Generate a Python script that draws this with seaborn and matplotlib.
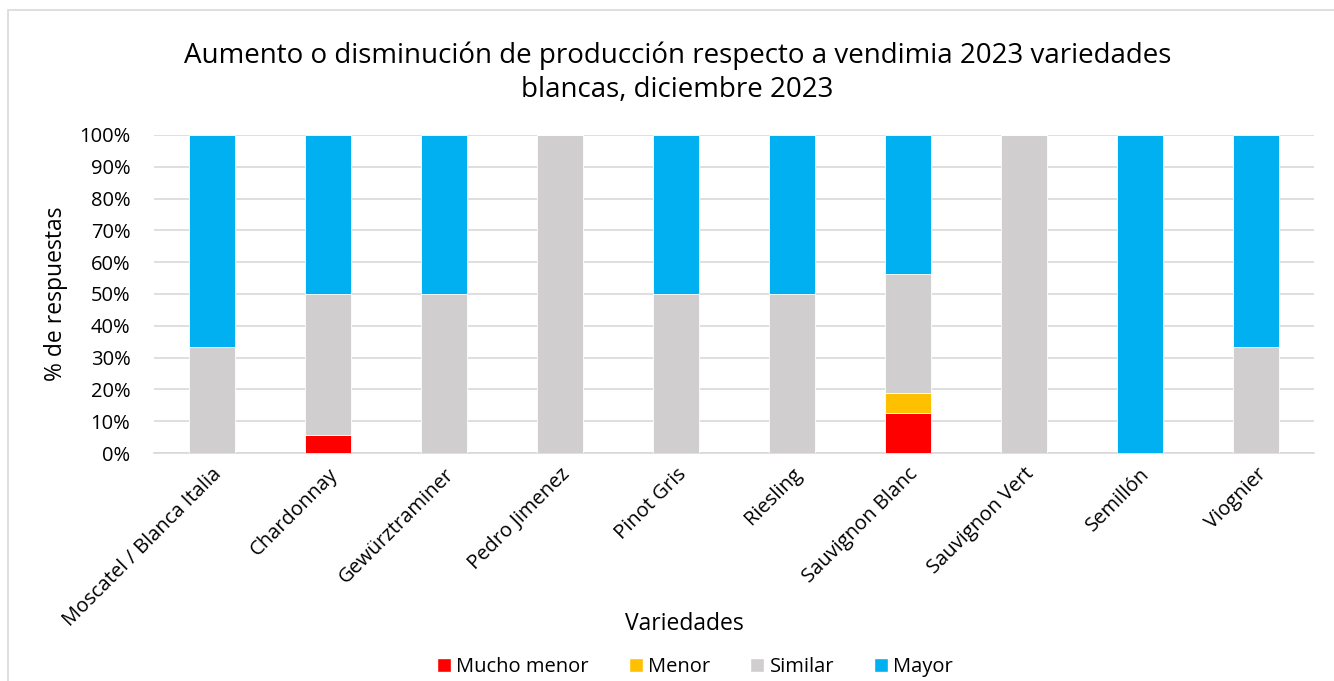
import matplotlib
matplotlib.use("Agg")
import matplotlib.pyplot as plt
import seaborn as sns
import pandas as pd
from matplotlib.patches import Rectangle, Patch
from matplotlib.ticker import FuncFormatter

variedades = ["Moscatel / Blanca Italia", "Chardonnay", "Gewürztraminer", "Pedro Jimenez",
              "Pinot Gris", "Riesling", "Sauvignon Blanc", "Sauvignon Vert", "Semillón", "Viognier"]
mucho_menor = [0.0, 5.6, 0.0, 0.0, 0.0, 0.0, 12.5, 0.0, 0.0, 0.0]
menor = [0.0, 0.0, 0.0, 0.0, 0.0, 0.0, 6.25, 0.0, 0.0, 0.0]
similar = [33.3, 44.4, 50.0, 100.0, 50.0, 50.0, 37.5, 100.0, 0.0, 33.3]
mayor = [66.7, 50.0, 50.0, 0.0, 50.0, 50.0, 43.75, 0.0, 100.0, 66.7]

series = ["Mucho menor", "Menor", "Similar", "Mayor"]
colores = ["#FF0000", "#FFC000", "#D0CECE", "#00B0F0"]

df = pd.DataFrame({"Variedad": variedades, "Mucho menor": mucho_menor,
                   "Menor": menor, "Similar": similar, "Mayor": mayor})

sns.set_style("white")
plt.rcParams["font.family"] = ["Open Sans", "DejaVu Sans"]
plt.rcParams["text.color"] = "black"

fig = plt.figure(figsize=(13.34, 6.81), dpi=100)
ax = fig.add_axes([0.1154, 0.3348, 0.8696, 0.467])

bottom = [0.0] * len(variedades)
for s, c in zip(series, colores):
    sns.barplot(data=df, x="Variedad", y=s, color=c, width=0.4, bottom=bottom, saturation=1,
                edgecolor="white", linewidth=0.6, ax=ax, zorder=3)
    bottom = [b + v for b, v in zip(bottom, df[s])]

ax.set_ylim(0, 100)
ax.set_xlim(-0.5, len(variedades) - 0.5)
ax.set_yticks(range(0, 101, 10))
ax.yaxis.set_major_formatter(FuncFormatter(lambda v, p: f"{int(v)}%"))
ax.grid(axis="y", color="#D9D9D9", linewidth=1.2, zorder=0)
ax.set_axisbelow(True)
for sp in ["left", "right", "top"]:
    ax.spines[sp].set_visible(False)
ax.spines["bottom"].set_color("#D9D9D9")
ax.spines["bottom"].set_linewidth(1.2)
ax.tick_params(axis="y", length=0, labelsize=14.5, colors="black", pad=17)
ax.tick_params(axis="x", length=0, labelsize=14.5, colors="black", pad=8)
plt.setp(ax.get_xticklabels(), rotation=45, ha="right", rotation_mode="anchor")

ax.set_xlabel("Variedades", fontsize=16.5, color="black")
ax.set_ylabel("% de respuestas", fontsize=16.5, color="black")
ax.xaxis.set_label_coords(0.457, -0.50)
ax.yaxis.set_label_coords(-0.074, 0.5)

fig.text(0.508, 0.893, "Aumento o disminución de producción respecto a vendimia 2023 variedades\nblancas, diciembre 2023",
         ha="center", va="center", fontsize=20, linespacing=1.3, color="black")

handles = [Patch(facecolor=c, label=s) for s, c in zip(series, colores)]
fig.legend(handles=handles, loc="center", bbox_to_anchor=(0.521, 0.02), ncol=4, frameon=False,
           fontsize=14.5, handlelength=0.7, handleheight=0.7, handletextpad=0.25, columnspacing=2.0,
           labelcolor="black")

fig.patches.append(Rectangle((0.006, -0.01), 0.999, 0.995, transform=fig.transFigure,
                             fill=False, edgecolor="#D9D9D9", linewidth=1.2))

fig.savefig("out.png", dpi=100)
